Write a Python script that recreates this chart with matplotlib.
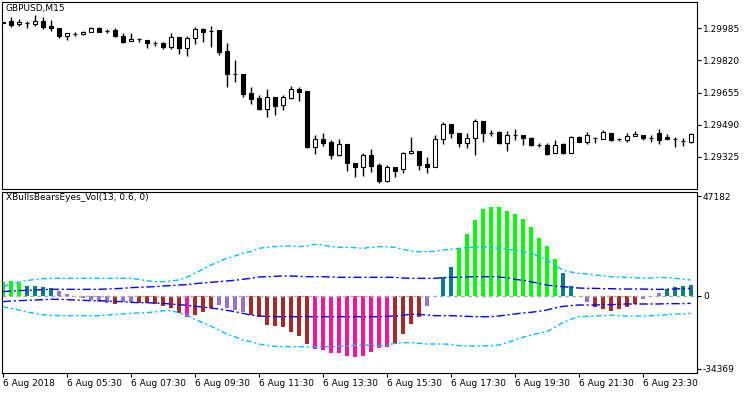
import numpy as np
import matplotlib.pyplot as plt

plt.rcParams['font.family'] = 'DejaVu Sans'
plt.rcParams['font.size'] = 6.5

# GBPUSD M15 candles, 6 Aug 2018 03:30 onwards
opens = [1.30016, 1.30021, 1.30006, 1.30013, 1.30007, 1.30024, 1.29998, 1.29985, 1.29945, 1.29957,
         1.29954, 1.29964, 1.29985, 1.29973, 1.29976, 1.29945, 1.29918, 1.29928, 1.29925, 1.29908,
         1.29911, 1.29890, 1.29939, 1.29882, 1.29934, 1.29980, 1.29973, 1.29976, 1.29868, 1.29750,
         1.29750, 1.29651, 1.29625, 1.29569, 1.29630, 1.29589, 1.29627, 1.29671, 1.29664, 1.29376,
         1.29414, 1.29401, 1.29335, 1.29390, 1.29291, 1.29271, 1.29334, 1.29282, 1.29202, 1.29271,
         1.29260, 1.29343, 1.29356, 1.29288, 1.29274, 1.29414, 1.29493, 1.29445, 1.29397, 1.29420,
         1.29507, 1.29448, 1.29453, 1.29394, 1.29437, 1.29437, 1.29420, 1.29385, 1.29385, 1.29343,
         1.29389, 1.29343, 1.29428, 1.29399, 1.29423, 1.29416, 1.29445, 1.29416, 1.29411, 1.29433,
         1.29437, 1.29423, 1.29445, 1.29428, 1.29416, 1.29406, 1.29402]
highs = [1.30018, 1.30045, 1.30031, 1.30024, 1.30053, 1.30041, 1.30028, 1.29987, 1.29962, 1.29968,
         1.29971, 1.29993, 1.29990, 1.29983, 1.29987, 1.29959, 1.29959, 1.29937, 1.29926, 1.29921,
         1.29915, 1.29959, 1.29942, 1.29945, 1.29990, 1.29985, 1.29997, 1.29977, 1.29911, 1.29822,
         1.29751, 1.29682, 1.29642, 1.29671, 1.29632, 1.29642, 1.29688, 1.29682, 1.29665, 1.29437,
         1.29445, 1.29411, 1.29414, 1.29391, 1.29294, 1.29343, 1.29363, 1.29294, 1.29281, 1.29272,
         1.29349, 1.29425, 1.29357, 1.29322, 1.29437, 1.29503, 1.29494, 1.29446, 1.29445, 1.29519,
         1.29508, 1.29462, 1.29459, 1.29459, 1.29466, 1.29438, 1.29425, 1.29397, 1.29394, 1.29411,
         1.29394, 1.29432, 1.29433, 1.29450, 1.29425, 1.29462, 1.29446, 1.29423, 1.29445, 1.29457,
         1.29438, 1.29437, 1.29467, 1.29440, 1.29428, 1.29420, 1.29445]
lows = [1.30011, 1.29993, 1.29997, 1.29985, 1.29997, 1.29983, 1.29973, 1.29934, 1.29925, 1.29945,
        1.29951, 1.29964, 1.29964, 1.29959, 1.29939, 1.29908, 1.29918, 1.29916, 1.29885, 1.29896,
        1.29880, 1.29877, 1.29851, 1.29843, 1.29903, 1.29916, 1.29890, 1.29848, 1.29685, 1.29710,
        1.29630, 1.29596, 1.29565, 1.29531, 1.29539, 1.29565, 1.29620, 1.29613, 1.29371, 1.29339,
        1.29380, 1.29315, 1.29329, 1.29253, 1.29219, 1.29226, 1.29246, 1.29191, 1.29197, 1.29222,
        1.29243, 1.29339, 1.29257, 1.29243, 1.29272, 1.29390, 1.29420, 1.29375, 1.29368, 1.29335,
        1.29402, 1.29430, 1.29393, 1.29356, 1.29411, 1.29385, 1.29380, 1.29373, 1.29334, 1.29343,
        1.29339, 1.29342, 1.29399, 1.29389, 1.29394, 1.29414, 1.29406, 1.29406, 1.29402, 1.29432,
        1.29411, 1.29402, 1.29389, 1.29415, 1.29376, 1.29382, 1.29394]
closes = [1.30013, 1.30003, 1.30019, 1.30015, 1.30024, 1.29993, 1.29985, 1.29945, 1.29962, 1.29958,
          1.29964, 1.29987, 1.29968, 1.29974, 1.29945, 1.29916, 1.29930, 1.29929, 1.29908, 1.29909,
          1.29889, 1.29939, 1.29882, 1.29934, 1.29980, 1.29968, 1.29974, 1.29865, 1.29750, 1.29751,
          1.29647, 1.29623, 1.29569, 1.29630, 1.29586, 1.29630, 1.29671, 1.29658, 1.29376, 1.29414,
          1.29397, 1.29335, 1.29390, 1.29291, 1.29271, 1.29334, 1.29277, 1.29202, 1.29271, 1.29253,
          1.29343, 1.29356, 1.29284, 1.29274, 1.29414, 1.29493, 1.29445, 1.29397, 1.29420, 1.29507,
          1.29448, 1.29449, 1.29394, 1.29437, 1.29438, 1.29420, 1.29385, 1.29386, 1.29339, 1.29385,
          1.29343, 1.29428, 1.29402, 1.29437, 1.29424, 1.29450, 1.29411, 1.29417, 1.29433, 1.29440,
          1.29423, 1.29424, 1.29411, 1.29416, 1.29417, 1.29407, 1.29440]

# XBullsBearsEyes_Vol histogram and its levels
hist = [6640, 7270, 6320, 4900, 4740, 4270, 3790, 2370, 950, 80,
        -790, -1900, -2840, -3480, -3630, -2840, -2840, -3160, -3480, -3790,
        -4740, -5850, -7900, -9800, -8850, -7430, -5850, -4420, -5850, -6640,
        -7430, -9010, -9800, -13750, -14220, -14540, -16910, -18800, -22750, -25280,
        -25600, -27180, -27180, -28440, -28760, -28440, -26390, -24810, -24330, -22750,
        -18010, -13270, -9800, -4740, -320, 8850, 13590, 22910, 29390, 36020,
        41080, 42340, 42340, 40450, 38870, 36340, 32860, 27330, 23700, 17540,
        11060, 4740, -200, -2690, -5370, -6320, -6950, -6320, -5370, -3790,
        -1580, -150, 1260, 3160, 4110, 4740, 5210]
hist_colors = "GGGTTTTPPPPPPPBPPBBBBBBKBBBPPPPBBBBBBBBKKKKKKKKKKBBBBPPTTGGGGGGGGGGGGGTTPPBBBBBBPPPTTTT"
outer_up = [4420, 5690, 6640, 7270, 7900, 8220] + [8370] * 11 + [
    7900, 7270, 6790, 6790, 7110, 7580, 8850, 10740, 12640, 14690,
    16270, 17850, 18960, 20220, 21010, 22590, 23070, 23380, 23700, 23700,
    23380, 23700, 24490, 24170, 23380, 23070, 23070, 22910, 22590, 23070,
    23380, 23380, 23070, 22120, 21330, 21010, 21010, 21170, 21800, 22120,
    22590, 22910, 23230, 23380, 23070, 22590, 22120, 21800, 21010, 20220,
    18960, 17060, 14690, 12320, 11380, 10740, 10430, 9950, 9640, 9160,
    9010, 8850, 8690, 8370, 8530, 8850, 8690, 8370, 8060, 7580]
outer_dn = [-5060, -5850, -6640, -7580, -8220, -8850, -9160] + [-9320] * 6 + [
    -9010, -8690, -8530, -8220, -8060, -7900, -7580, -6950, -6950, -7900,
    -9010, -11060, -12640, -14220, -16120, -18010, -19280, -20860, -21650, -22750,
    -23380, -23860] + [-24020] * 7 + [
    -23860, -23700, -23380, -23230, -23380, -23700, -23230, -22440, -22120, -22120,
    -22440, -22750, -22750, -22750, -22910, -23540, -23700, -23700, -23700, -23540,
    -23230, -22120, -20860, -19590, -18490, -17700, -16910, -14850, -12640, -11060,
    -9800, -9640, -9480, -9320, -9160, -9320, -9480, -9480, -9480, -9320,
    -9160, -8850, -8530, -8530, -8220]
inner_up = [2050, 2370, 2530, 2690, 2840, 3000] + [3160] * 7 + [
    3320, 3480, 3630, 3950, 4110, 4270, 4420, 4740, 4900, 5210,
    5370, 5850, 6160, 6480, 6790, 7110, 7430, 7900, 8370, 9010,
    9160, 9320, 9480, 9480, 9320, 9160, 9160, 9160, 9010] + [8850] * 8 + [
    8530, 8370, 8370, 8370, 8370, 8690, 8850, 8850, 9010, 9160,
    9160, 9160, 9010, 8690, 7900, 7430, 6790, 6000, 5210, 4740,
    4420, 4110, 3790, 3630, 3630, 3480, 3480, 3320, 3320, 3320,
    3320, 3160, 3160, 3160, 3320, 3480, 3630]
inner_dn = [-2690, -2370, -2210, -2050, -1900, -1740, -1580, -1580, -1740, -1900,
            -2050, -2210, -2210, -2370, -2530, -2690, -3000, -3160, -3160, -3320,
            -3480, -3790, -4110, -4420, -4900, -5210, -5690, -6160, -6790, -7430,
            -8220, -9010, -9480, -9640] + [-9800] * 14 + [
    -9640, -9480, -9160, -8690, -8690, -9010, -9320, -9320, -9320, -9480,
    -9640, -9800, -9800, -9800, -9480, -9010, -8530, -8060, -7740, -7270,
    -6640, -5690, -4900, -4580, -4270, -4270, -4270, -4110, -4110, -3950,
    -3790, -3790, -3790, -3790, -3790, -3630, -3630, -3630, -3480]

price_ticks = [1.29985, 1.29820, 1.29655, 1.29490, 1.29325]
ind_ticks = [47182, 0, -34369]
time_ticks = [0, 8, 16, 24, 32, 40, 48, 56, 64, 72, 80]
time_labels = ['6 Aug 2018', '6 Aug 05:30', '6 Aug 07:30', '6 Aug 09:30', '6 Aug 11:30',
               '6 Aug 13:30', '6 Aug 15:30', '6 Aug 17:30', '6 Aug 19:30', '6 Aug 21:30',
               '6 Aug 23:30']

palette = {'G': '#00FF00', 'T': '#008080', 'P': '#9370DB', 'B': '#A52A2A', 'K': '#FF1493'}

o = np.array(opens)
h = np.array(highs)
l = np.array(lows)
c = np.array(closes)
x = np.arange(len(o))

fig = plt.figure(figsize=(7.5, 3.94), dpi=100)
ax1 = fig.add_axes([1.7 / 750, 1 - 189.3 / 394, 695 / 750, 187.6 / 394])
ax2 = fig.add_axes([1.7 / 750, 1 - 372.7 / 394, 695 / 750, 181 / 394])

# candles
ax1.vlines(x, l, h, color='black', lw=1, zorder=2)
body_col = np.where(c >= o, 'white', 'black')
ax1.bar(x, np.abs(c - o), bottom=np.minimum(o, c), width=0.5,
        color=body_col, edgecolor='black', lw=0.8, zorder=3)
ax1.set_xlim(-0.125, 86.75)
ax1.set_ylim(1.29158, 1.30122)
ax1.set_xticks([])
ax1.yaxis.tick_right()
ax1.set_yticks(price_ticks)
ax1.set_yticklabels(['%.5f' % p for p in price_ticks])
ax1.text(6 / 750, 1 - 4.5 / 394, 'GBPUSD,M15', transform=fig.transFigure, va='top', ha='left')

# indicator
ax2.bar(x, hist, width=0.5, color=[palette[k] for k in hist_colors], zorder=2)
ax2.axhline(0, color='#B0B0B0', lw=1, ls=(0, (3, 2)), zorder=2.5)
ax2.plot(x, outer_up, color='#00BFFF', lw=1, ls=(0, (4, 2, 1.5, 2)), zorder=3)
ax2.plot(x, outer_dn, color='#00BFFF', lw=1, ls=(0, (4, 2, 1.5, 2)), zorder=3)
ax2.plot(x, inner_up, color='#0000FF', lw=1, ls=(0, (6, 2, 1.5, 2)), zorder=3)
ax2.plot(x, inner_dn, color='#0000FF', lw=1, ls=(0, (6, 2, 1.5, 2)), zorder=3)
ax2.set_xlim(-0.125, 86.75)
ax2.set_ylim(-36356, 49438)
ax2.yaxis.tick_right()
ax2.set_yticks(ind_ticks)
ax2.set_yticklabels([str(v) for v in ind_ticks])
ax2.set_xticks(time_ticks)
ax2.set_xticklabels(time_labels, ha='left')
ax2.text(6 / 750, 1 - 193.5 / 394, 'XBullsBearsEyes_Vol(13, 0.6, 0)', transform=fig.transFigure,
         va='top', ha='left')

for ax in (ax1, ax2):
    for s in ax.spines.values():
        s.set_linewidth(0.8)
        s.set_color('black')
    ax.tick_params(direction='out', length=3, width=0.8, pad=1.5, labelsize=6.5, colors='black')

fig.savefig('out.png', dpi=100)
